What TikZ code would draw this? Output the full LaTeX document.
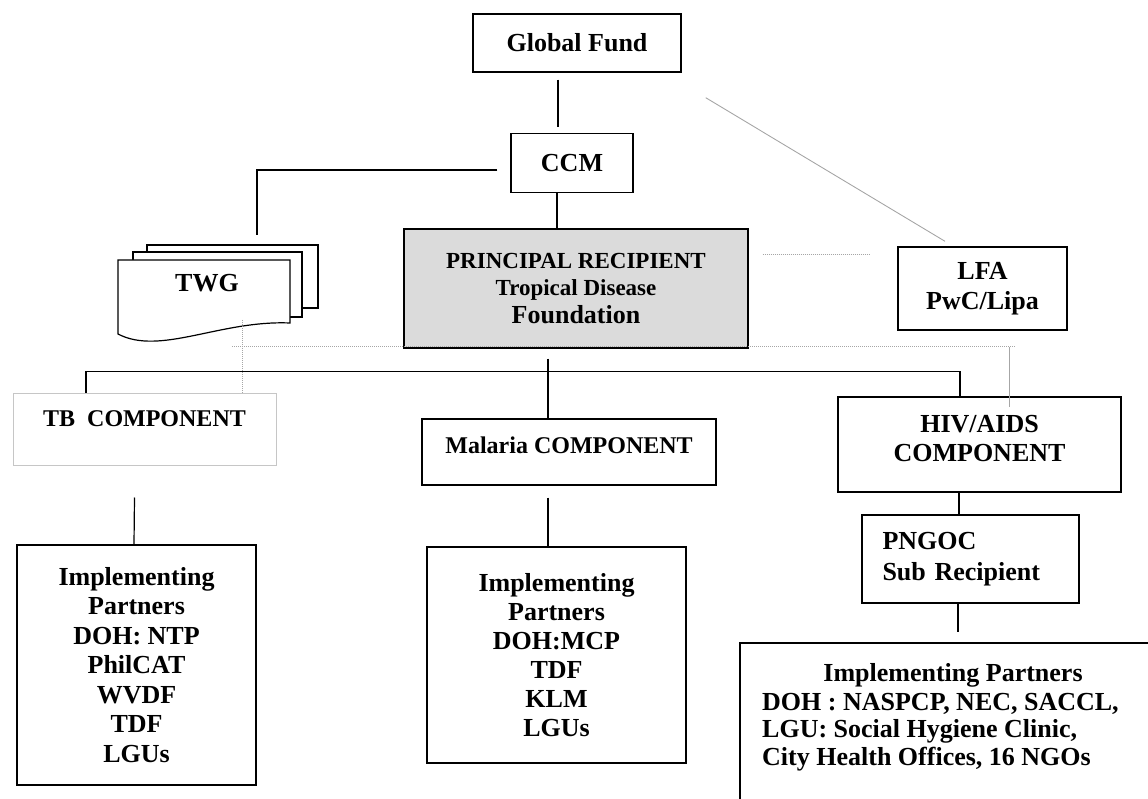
\documentclass[tikz,border=0pt]{standalone}
\usepackage{fontspec}
\setmainfont{Liberation Serif}
\usepackage{tikz}

\begin{document}
\begin{tikzpicture}[x=1pt,y=-1pt,
    box/.style={draw,line width=1.4pt,font=\bfseries\fontsize{26}{29.5}\selectfont,align=center,inner sep=0pt},
    link/.style={line width=1.2pt},
    faint/.style={gray!70,line width=0.9pt},
    faintdots/.style={gray!70,line width=1pt,densely dotted}]
  \useasboundingbox (0,0) rectangle (1148,799);
  % top
  \node[box,minimum width=208,minimum height=58] (gf) at (577,43) {Global Fund};
  \node[box,minimum width=122,minimum height=59] (ccm) at (572,163) {CCM};
  \node[box,fill=gray!28,minimum width=344,minimum height=119,font=\bfseries\fontsize{23}{27.5}\selectfont] (pr) at (576,288.5)
    {PRINCIPAL RECIPIENT\\Tropical Disease\\{\fontsize{26}{27.5}\selectfont Foundation}};
  \node[box,minimum width=169,minimum height=83] (lfa) at (982.5,288.5) {LFA\\PwC/Lipa};
  % twg sheets
  \draw[line width=1.2pt,fill=white] (147,245) rectangle (318,308);
  \draw[line width=1.2pt,fill=white] (133,252) rectangle (302,317);
  \draw[line width=1.2pt,fill=white] (118,260) -- (290,260) -- (290,323)
    .. controls (220,320) and (160,356) .. (118,334) -- cycle;
  \node[font=\bfseries\fontsize{26}{30}\selectfont] (twg) at (207,283) {TWG};
  % components
  \node[box,draw=gray!45,line width=1pt,font=\bfseries\fontsize{24}{28}\selectfont,text height=16pt,text depth=22pt,minimum width=263,minimum height=72] (tb) at (144.5,429) {TB\ \ COMPONENT};
  \node[box,font=\bfseries\fontsize{24}{28}\selectfont,text height=16pt,text depth=14pt,minimum width=294,minimum height=66] (mal) at (569,452) {Malaria COMPONENT};
  \node[box,text depth=12pt,minimum width=283,minimum height=95] (hiv) at (979.5,444.5) {HIV/AIDS\\COMPONENT};
  \node[box,align=left,text width=176pt,font=\bfseries\fontsize{26}{31}\selectfont,minimum width=217,minimum height=88] (png) at (970.5,559) {PNGOC\\Sub Recipient};
  % implementing partners
  \node[box,minimum width=239,minimum height=240] (iptb) at (136.5,665) {Implementing\\Partners\\DOH: NTP\\PhilCAT\\WVDF\\TDF\\LGUs};
  \node[box,font=\bfseries\fontsize{26}{29}\selectfont,minimum width=259,minimum height=216] (ipmal) at (556.5,655) {Implementing\\Partners\\DOH:MCP\\TDF\\KLM\\LGUs};
  \node[box,minimum width=430,minimum height=177] (iphiv) at (955,731.5) {};
  \node[font=\bfseries\fontsize{26}{29}\selectfont] (iphivhead) at (953,675) {Implementing Partners};
  \node[font=\bfseries\fontsize{26}{27.5}\selectfont,align=left,anchor=north west,inner sep=0pt] (iphivlist) at (762,693)
    {DOH : NASPCP, NEC, SACCL,\\LGU: Social Hygiene Clinic,\\City Health Offices, 16 NGOs};
  % links
  \draw[link] ([shift={(-19pt,-7pt)}]gf.south) -- ([shift={(-14pt,6pt)}]ccm.north);
  \draw[link] ([xshift=-15pt]ccm.south) -- ([xshift=-19pt]pr.north);
  \coordinate (twgtop) at (257,235);
  \draw[link] ([shift={(-13pt,-7pt)}]ccm.west) -| (twgtop);
  \draw[link] ([shift={(-28pt,-10pt)}]pr.south) -- ([xshift=-21pt]mal.north);
  \draw[link] ([xshift=-58.5pt]tb.north) -- ++(0,-21) -| ([xshift=-19.5pt]hiv.north);
  \draw[link] ([shift={(-10pt,-32pt)}]tb.south) -- ([xshift=-2.5pt]iptb.north);
  \draw[link] ([shift={(-21pt,-12pt)}]mal.south) -- ([xshift=-8.5pt]ipmal.north);
  \draw[link] ([xshift=-20.5pt]hiv.south) -- ([xshift=-11.5pt]png.north);
  \draw[link] ([xshift=-12.5pt]png.south) -- ([shift={(3pt,10pt)}]iphiv.north);
  % lfa and dotted links
  \draw[faint] ([shift={(24pt,-25pt)}]gf.south east) -- ([shift={(-37.5pt,5pt)}]lfa.north);
  \draw[faintdots] ([shift={(14pt,33.5pt)}]pr.east) -- ([shift={(-28pt,33.5pt)}]lfa.west);
  \coordinate (twgfoot) at (242,320);
  \coordinate (dotw) at (232,347);
  \coordinate (dote) at (1015,347);
  \coordinate (dothiv) at (1009,347);
  \draw[faintdots] (dotw) -- (dote);
  \draw[faintdots] (twgfoot) -- ([xshift=97.5pt]tb.north);
  \draw[faint,line width=0.7pt] (dothiv) -- ([shift={(29.5pt,-11pt)}]hiv.north);
\end{tikzpicture}
\end{document}
